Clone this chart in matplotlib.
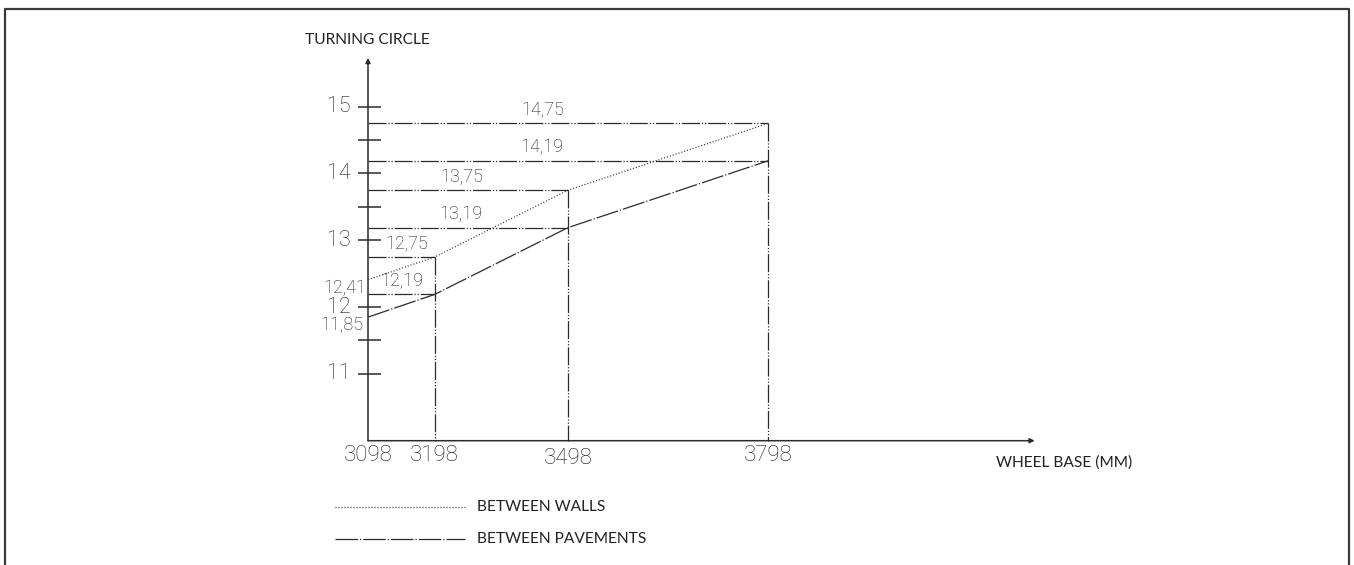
import matplotlib
matplotlib.use("Agg")
import matplotlib.pyplot as plt

# data
wheel_base = [3098, 3198, 3498, 3798]
between_walls = [12.41, 12.75, 13.75, 14.75]
between_pavements = [11.85, 12.19, 13.19, 14.19]
y_major = [11, 12, 13, 14, 15]
y_minor = [11.5, 13.5, 14.5]

# schematic (not linear) slots for the wheel bases, as in the drawing
x_slot = [0, 1, 3, 6]

INK = "#2b2b2b"
TXT = "#222222"
NUM_FONT = dict(family=["Roboto", "DejaVu Sans"], fontweight="light", color="#1a1a1a")
LBL_FONT = dict(family=["Lato", "DejaVu Sans"], color=TXT)

guide = (0, (14.4, 1.5, 1, 1.5, 1, 1.5))
pave = (0, (18, 1.6, 1, 1.6))
walls = (0, (0.8, 1.6))

W, H, DPI = 1354, 565, 100
x0_px, y0_px = 368, 440.7       # where slot 0 / value 10 sit
sx, sy = 66.67, 66.8            # pixels per slot / per unit

fig = plt.figure(figsize=(W / DPI, H / DPI), dpi=DPI)
ax = fig.add_axes([0, 0, 1, 1])
ax.set_xlim(-x0_px / sx, (W - x0_px) / sx)
ax.set_ylim(10 - (H - y0_px) / sy, 10 + y0_px / sy)
ax.axis("off")

# frame around the sheet (open at the bottom)
fig.add_artist(plt.Line2D([4.5 / W, 4.5 / W, 1349 / W, 1349 / W],
                          [0, 1 - 9 / H, 1 - 9 / H, 0],
                          transform=fig.transFigure, color="#3a3a3a", lw=1.6))

# axes with arrows
ymin = 10
ax.annotate("", xy=(0, 15.73), xytext=(0, ymin),
            arrowprops=dict(arrowstyle="-|>", color=INK, lw=1.1, mutation_scale=7,
                            shrinkA=0, shrinkB=0))
ax.annotate("", xy=(10.0, ymin), xytext=(0, ymin),
            arrowprops=dict(arrowstyle="-|>", color=INK, lw=1.1, mutation_scale=7,
                            shrinkA=0, shrinkB=0))

# y ticks (cross the axis)
tl, tr = -10 / sx, 13 / sx
for v in y_major + y_minor:
    ax.plot([tl, tr], [v, v], color=INK, lw=1.1, solid_capstyle="butt")
for v in y_major:
    ax.text(-17 / sx, v, str(v), ha="right", va="center", fontsize=15.5, **NUM_FONT)

# x tick labels
for s, wb in zip(x_slot, wheel_base):
    dy = 0.27 if wb == 3498 else 0.22
    ax.text(s, ymin - dy, str(wb), ha="center", va="center", fontsize=16, **NUM_FONT)

# guide lines from each point to the axes
for s, w, p in zip(x_slot[1:], between_walls[1:], between_pavements[1:]):
    ax.plot([0, s], [w, w], color=INK, lw=0.9, linestyle=guide)
    ax.plot([0, s], [p, p], color=INK, lw=0.9, linestyle=guide)
    ax.plot([s, s], [w, ymin], color=INK, lw=0.9, linestyle=guide)

# the two curves
ax.plot(x_slot, between_walls, color=INK, lw=0.9, linestyle=walls)
ax.plot(x_slot, between_pavements, color=INK, lw=0.9, linestyle=pave)


def fmt(v):
    return f"{v:.2f}".replace(".", ",")


# value labels over the guide lines
label_x = [0.58, 1.41, 2.62]
for lx, w, p in zip(label_x, between_walls[1:], between_pavements[1:]):
    ax.annotate(fmt(w), (lx, w), xytext=(0, 3), textcoords="offset points",
                ha="center", va="bottom", fontsize=13, **NUM_FONT)
    ax.annotate(fmt(p), (lx - (0.08 if lx < 1 else 0.02), p), xytext=(0, 3),
                textcoords="offset points", ha="center", va="bottom",
                fontsize=13, **NUM_FONT)

# start values on the left of the axis
ax.annotate(fmt(between_walls[0]), (0, between_walls[0]), xytext=(-1.5, -6),
            textcoords="offset points", ha="right", va="center", fontsize=13, **NUM_FONT)
ax.annotate(fmt(between_pavements[0]), (0, between_pavements[0]), xytext=(-3, -5.5),
            textcoords="offset points", ha="right", va="center", fontsize=13, **NUM_FONT)

# axis titles
ax.text(-63 / sx, 10 + (y0_px - 40) / sy, "TURNING CIRCLE", ha="left", va="center",
        fontsize=11.2, **LBL_FONT)
ax.text((996 - x0_px) / sx, 10 - (463 - y0_px) / sy, "WHEEL BASE (MM)", ha="left",
        va="center", fontsize=11.2, **LBL_FONT)

# legend drawn like the drawing's key
lx0, lx1, ltx = (335 - x0_px) / sx, (465 - x0_px) / sx, (477 - x0_px) / sx
for ypx, ls, name in [(507, walls, "BETWEEN WALLS"), (539, pave, "BETWEEN PAVEMENTS")]:
    yy = 10 - (ypx - y0_px) / sy
    ax.plot([lx0, lx1], [yy, yy], color=INK, lw=0.9, linestyle=ls)
    ax.text(ltx, yy, name, ha="left", va="center", fontsize=11.2, **LBL_FONT)

fig.savefig("out.png", dpi=DPI, facecolor="white")
